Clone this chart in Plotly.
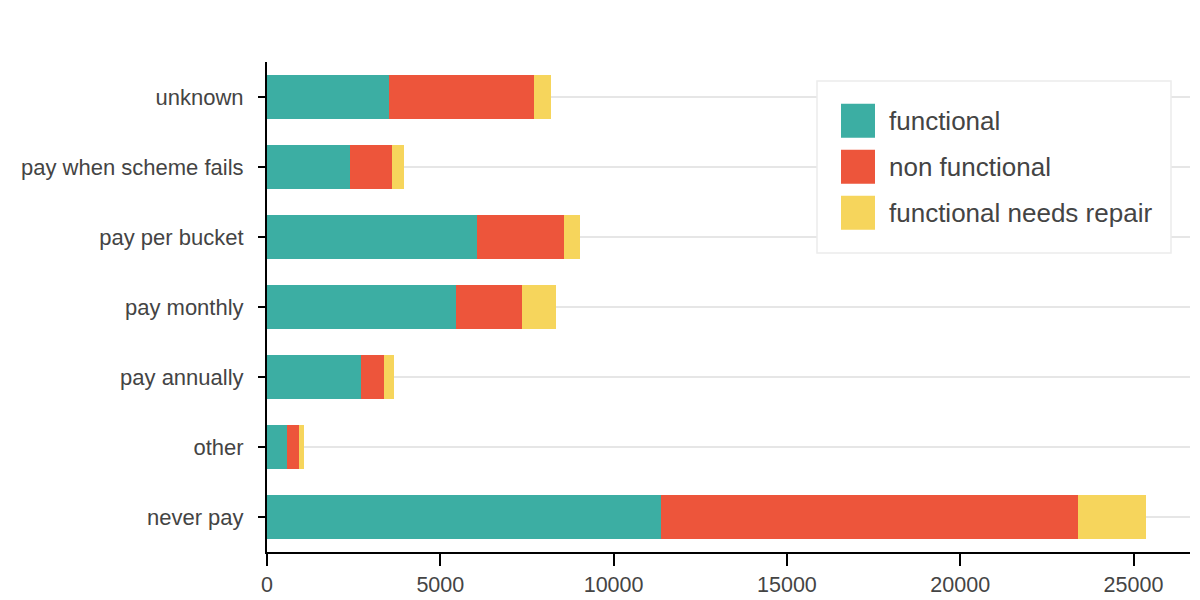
import plotly.graph_objects as go

categories = ["never pay", "other", "pay annually", "pay monthly",
              "pay per bucket", "pay when scheme fails", "unknown"]
functional = [11379, 577, 2712, 5453, 6068, 2404, 3511]
non_functional = [12030, 337, 663, 1904, 2492, 1212, 4201]
needs_repair = [1939, 163, 289, 972, 461, 327, 472]

series_names = ["functional", "non functional", "functional needs repair"]
series_values = [functional, non_functional, needs_repair]
colors = ["#3CAEA3", "#ED553B", "#F6D55C"]

x_ticks = [0, 5000, 10000, 15000, 20000, 25000]
x_max = 26630

FONT = "Liberation Sans, Arial, Helvetica, sans-serif"
TEXT = "#444444"

fig = go.Figure()
for name, vals, col in zip(series_names, series_values, colors):
    fig.add_trace(go.Bar(
        y=categories, x=vals, name=name, orientation="h",
        marker=dict(color=col, line=dict(width=0)),
        showlegend=False,
    ))

# plot area in pixels
L, R, T, B = 267, 1190, 62, 552
W, H = 1200, 600


def px(xp):
    return (xp - L) / (R - L)


def py(yp):
    return (B - yp) / (B - T)


shapes = []
annotations = []
# legend box
shapes.append(dict(type="rect", xref="paper", yref="paper",
                   x0=px(817), x1=px(1171), y0=py(253), y1=py(81),
                   line=dict(color="#ececec", width=1.5), fillcolor="white",
                   layer="above"))
for i, (name, col) in enumerate(zip(series_names, colors)):
    cy = 120.7 + 46 * i
    shapes.append(dict(type="rect", xref="paper", yref="paper",
                       x0=px(841), x1=px(875), y0=py(cy + 17), y1=py(cy - 17),
                       line=dict(width=0), fillcolor=col, layer="above"))
    annotations.append(dict(xref="paper", yref="paper", x=px(887), y=py(cy),
                            xanchor="left", yanchor="middle", showarrow=False,
                            text=name, font=dict(family=FONT, size=26, color=TEXT)))

fig.update_layout(
    barmode="stack",
    bargap=0.37,
    width=W, height=H,
    margin=dict(l=L, r=W - R, t=T, b=H - B, pad=0, autoexpand=False),
    plot_bgcolor="white", paper_bgcolor="white",
    font=dict(family=FONT, size=22, color=TEXT),
    shapes=shapes,
    annotations=annotations,
    xaxis=dict(range=[0, x_max], tickvals=x_ticks, ticktext=[str(v) for v in x_ticks],
               automargin=False,
               showgrid=False, zeroline=False, showline=True, linecolor="black",
               linewidth=2, ticks="outside", ticklen=12, tickwidth=2,
               tickcolor="black", tickfont=dict(size=21.5, color=TEXT)),
    yaxis=dict(categoryorder="array", categoryarray=categories,
               automargin=False,
               showgrid=True, gridcolor="#e6e6e6", gridwidth=2,
               zeroline=False, showline=True, linecolor="black", linewidth=2,
               ticks="outside", ticklen=7, tickwidth=2, tickcolor="black",
               ticklabelstandoff=10, tickfont=dict(size=22, color=TEXT)),
)

fig.write_html("out.html", config={"displayModeBar": False},
               post_script="document.body.style.margin='0px';document.body.style.overflow='hidden';")
